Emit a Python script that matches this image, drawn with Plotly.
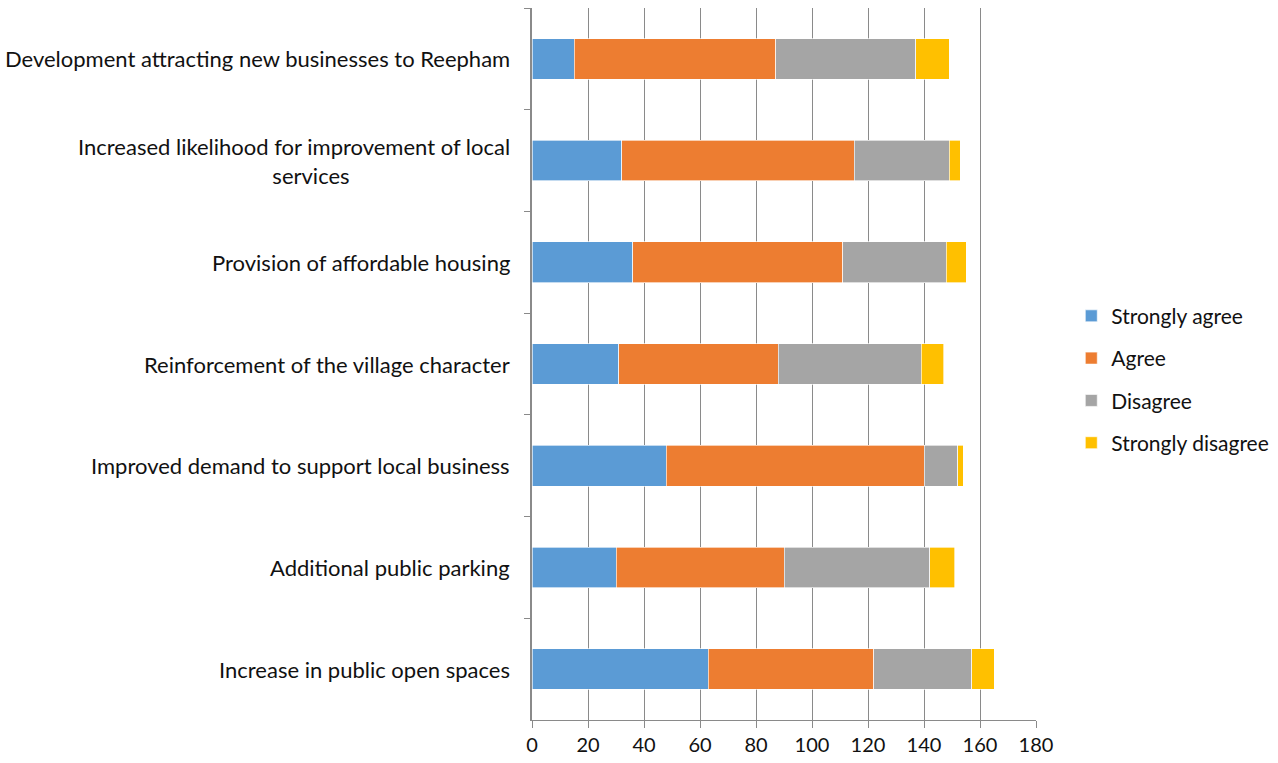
import plotly.graph_objects as go

categories = [
    "Development attracting new businesses to Reepham",
    "Increased likelihood for improvement of local<br>&nbsp;&nbsp;&nbsp;&nbsp;&nbsp;&nbsp;services",
    "Provision of affordable housing",
    "Reinforcement of the village character",
    "Improved demand to support local business",
    "Additional public parking",
    "Increase in public open spaces",
]

strongly_agree = [15, 32, 36, 31, 48, 30, 63]
agree = [72, 83, 75, 57, 92, 60, 59]
disagree = [50, 34, 37, 51, 12, 52, 35]
strongly_disagree = [12, 4, 7, 8, 2, 9, 8]

series = [
    ("Strongly agree", strongly_agree, "#5B9BD5"),
    ("Agree", agree, "#ED7D31"),
    ("Disagree", disagree, "#A5A5A5"),
    ("Strongly disagree", strongly_disagree, "#FFC000"),
]

x_ticks = [0, 20, 40, 60, 80, 100, 120, 140, 160, 180]

FONT = "Lato, Open Sans, sans-serif"
TEXT = "#111111"
GRID = "#8a8a8a"

fig = go.Figure()
for i, (name, vals, color) in enumerate(series):
    fig.add_trace(go.Bar(
        y=categories, x=vals, name=name, orientation="h",
        marker=dict(color=color, line=dict(color="rgba(255,255,255,0.8)", width=0.8)),
        legendgroup=str(i),
    ))

# category labels drawn beside the axis, wrapped lines centred
for cat in categories:
    fig.add_annotation(
        x=0, xref="paper", y=cat, yref="y", xanchor="right", xshift=-20,
        text=cat, showarrow=False, align="center",
        font=dict(family=FONT, size=22, color=TEXT),
    )

fig.update_layout(
    barmode="stack",
    bargap=0.6,
    width=1278, height=763,
    margin=dict(l=532, r=242, t=8, b=43, autoexpand=False),
    paper_bgcolor="white", plot_bgcolor="white",
    font=dict(family=FONT, size=20, color=TEXT),
    showlegend=True,
    legend=dict(
        x=1.07, xanchor="left", y=0.478, yanchor="middle",
        traceorder="grouped", tracegroupgap=12,
        font=dict(family=FONT, size=21, color=TEXT),
        itemclick=False,
    ),
    xaxis=dict(
        range=[0, 180], tickvals=x_ticks, ticktext=[str(v) for v in x_ticks],
        showgrid=True, gridcolor=GRID, gridwidth=1,
        showline=True, linecolor=GRID, linewidth=1,
        ticks="outside", ticklen=7, tickcolor=GRID,
        zeroline=False,
        tickfont=dict(family=FONT, size=20, color=TEXT),
    ),
    yaxis=dict(
        categoryorder="array", categoryarray=categories, autorange="reversed",
        showticklabels=False, showgrid=False,
        showline=True, linecolor=GRID, linewidth=1.5,
        ticks="outside", ticklen=6, tickcolor=GRID, tickson="boundaries",
    ),
)

fig.write_html("out.html")
